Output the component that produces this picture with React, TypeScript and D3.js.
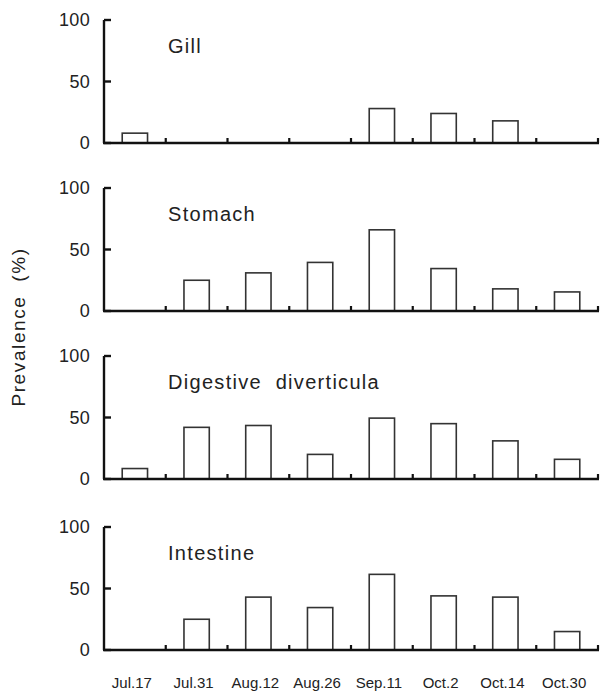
import React from "react";
import * as d3 from "d3";

const dates = ["Jul.17", "Jul.31", "Aug.12", "Aug.26", "Sep.11", "Oct.2", "Oct.14", "Oct.30"];
const organs = ["Gill", "Stomach", "Digestive  diverticula", "Intestine"];
const gill = [8, 0, 0, 0, 28, 24, 18, 0];
const stomach = [0, 25, 31, 39.5, 66, 34.5, 18, 15.5];
const digestive = [8.5, 42, 43.5, 20, 49.5, 45, 31, 16];
const intestine = [0, 25, 43, 34.5, 61.5, 44, 43, 15];
const yTicks = [0, 50, 100];

const seriesList = [gill, stomach, digestive, intestine];

const W = 600;
const H = 691;
const axisX = 104;
const axisRight = 598;
const panelTops = [20, 188, 356, 527];
const panelH = 123;

export default function App() {
  const x = d3.scaleBand<string>().domain(dates).range([axisX, axisRight]).padding(0);
  const step = x.step();
  const barW = step * 0.41;

  return (
    <svg
      width={W}
      height={H}
      style={{ position: "absolute", left: 0, top: 0, background: "#fff" }}
      fontFamily="Liberation Sans, Arial, sans-serif"
    >
      <text
        transform={`translate(25,327) rotate(-90)`}
        textAnchor="middle"
        fontSize={19}
        letterSpacing={1.6}
        fill="#222"
        style={{ whiteSpace: "pre" }}
      >
        {"Prevalence  (%)"}
      </text>
      {seriesList.map((vals, pi) => {
        const top = panelTops[pi];
        const y = d3.scaleLinear().domain([0, 100]).range([top + panelH, top]);
        const base = y(0);
        return (
          <g key={pi}>
            {vals.map((v, i) =>
              v > 0 ? (
                <rect
                  key={i}
                  x={(x(dates[i]) as number) + step / 2 - barW / 2}
                  y={y(v)}
                  width={barW}
                  height={base - y(v)}
                  fill="#fff"
                  stroke="#333"
                  strokeWidth={1.6}
                />
              ) : null
            )}
            <line x1={axisX} x2={axisX} y1={y(100)} y2={base} stroke="#111" strokeWidth={2.4} />
            {yTicks.map((t) => (
              <g key={t}>
                <line x1={axisX} x2={axisX + 7} y1={y(t)} y2={y(t)} stroke="#111" strokeWidth={2.4} />
                <text
                  x={90}
                  y={y(t)}
                  dy="0.36em"
                  textAnchor="end"
                  fontSize={18}
                  letterSpacing={0.3}
                  fill="#222"
                >
                  {t}
                </text>
              </g>
            ))}
            <line x1={axisX - 1} x2={axisRight + 1} y1={base} y2={base} stroke="#111" strokeWidth={2.6} />
            {dates.map((d) => (
              <line
                key={d}
                x1={(x(d) as number) + step}
                x2={(x(d) as number) + step}
                y1={base}
                y2={base - 5}
                stroke="#111"
                strokeWidth={2.2}
              />
            ))}
            <text
              x={axisX + 64}
              y={top + 33}
              fontSize={20}
              letterSpacing={1.3}
              fill="#222"
              style={{ whiteSpace: "pre" }}
            >
              {organs[pi]}
            </text>
          </g>
        );
      })}
      {dates.map((d) => (
        <text
          key={d}
          x={(x(d) as number) + step / 2 - 3}
          y={688}
          textAnchor="middle"
          fontSize={15}
          fill="#222"
        >
          {d}
        </text>
      ))}
    </svg>
  );
}
